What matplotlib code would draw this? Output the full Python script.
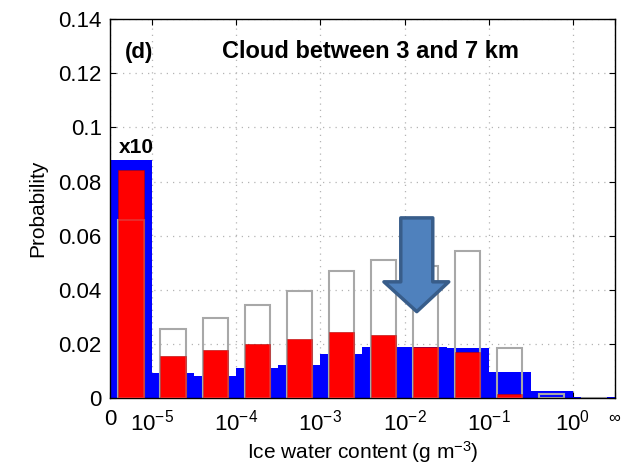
import matplotlib

matplotlib.use("Agg")
import matplotlib.pyplot as plt
import numpy as np
from matplotlib.patches import Polygon

plt.rcParams["font.family"] = ["Liberation Sans", "DejaVu Sans"]
plt.rcParams["mathtext.fontset"] = "custom"
plt.rcParams["mathtext.rm"] = "Liberation Sans"
plt.rcParams["mathtext.it"] = "Liberation Sans:italic"

# --- data: 12 IWC bins (0, half decades from 1e-5 to 1, then 1 to inf) ------
bin_labels = ["0", "1e-5", "10^-4.5", "1e-4", "10^-3.5", "1e-3", "10^-2.5",
              "1e-2", "10^-1.5", "1e-1", "10^-0.5", "1e0"]
obs_blue = [0.0088, 0.0094, 0.0083, 0.0111, 0.0124, 0.0164, 0.0190,
            0.0191, 0.0185, 0.0098, 0.0027, 0.0005]
model_red = [0.00843, 0.0156, 0.0178, 0.0200, 0.0218, 0.0246, 0.0234,
             0.0188, 0.0172, 0.0015, 0.0003, 0.0]
model_white = [0.0066, 0.0256, 0.0295, 0.0344, 0.0396, 0.0469, 0.0510,
               0.0488, 0.0544, 0.0184, 0.0017, 0.0]
scale = [10, 1, 1, 1, 1, 1, 1, 1, 1, 1, 1, 1]  # first bin shown x10

tick_pos = [0, 1, 3, 5, 7, 9, 11, 12]
tick_labels = ["0", r"$10^{-5}$", r"$10^{-4}$", r"$10^{-3}$", r"$10^{-2}$",
               r"$10^{-1}$", r"$10^{0}$", r"$\infty$"]
y_ticks = [0, 0.02, 0.04, 0.06, 0.08, 0.1, 0.12, 0.14]
y_labels = ["0", "0.02", "0.04", "0.06", "0.08", "0.1", "0.12", "0.14"]

x = np.arange(len(bin_labels)) + 0.5
sc = np.array(scale)

fig = plt.figure(figsize=(6.26, 4.72), dpi=100)
ax = fig.add_axes([0.1757, 0.1561, 0.8067, 0.8036])
ax.set_axisbelow(True)

ax.bar(x, np.array(obs_blue) * sc, width=1.0, color="#0000ff",
       edgecolor="none", zorder=2)
# outlines sit above blue but under red; a faint copy shows through red
ax.bar(x, np.array(model_white) * sc, width=0.6, facecolor="none",
       edgecolor="#a8a8a8", linewidth=1.5, zorder=2.5)
ax.bar(x, np.array(model_red) * sc, width=0.6, color="#ff0000",
       edgecolor="#b00000", linewidth=0.4, zorder=3)
ax.bar(x, np.array(model_white) * sc, width=0.6, facecolor="none",
       edgecolor="#a8a8a8", linewidth=1.2, alpha=0.3, zorder=4)

ax.text(0.2, 0.0905, "x10", fontsize=15, fontweight="bold", ha="left",
        va="baseline")
ax.text(0.36, 0.1255, "(d)", fontsize=16, fontweight="bold", ha="left",
        va="baseline")
ax.text(6.19, 0.1255, "Cloud between 3 and 7 km", fontsize=17,
        fontweight="bold", ha="center", va="baseline")

# overlay arrow pointing at the 1e-2 bin
sx0, sx1, top, hy, hx0, hx1, tip_x, tip_y = 6.91, 7.67, 0.0666, 0.0430, 6.51, 8.05, 7.29, 0.0320
arrow = Polygon([(sx0, top), (sx1, top), (sx1, hy), (hx1, hy), (tip_x, tip_y),
                 (hx0, hy), (sx0, hy)], closed=True, facecolor="#4f81bd",
                edgecolor="#385d8a", linewidth=2.5, joinstyle="round", zorder=6)
ax.add_patch(arrow)

ax.set_xlim(0, 12)
ax.set_ylim(0, 0.14)
ax.set_xticks(tick_pos)
ax.set_xticklabels(tick_labels)
ax.set_yticks(y_ticks)
ax.set_yticklabels(y_labels)
ax.tick_params(direction="in", length=4, top=True, right=True, width=0.8)
ax.tick_params(axis="x", pad=8, labelsize=16)
ax.tick_params(axis="y", pad=6, labelsize=16)
ax.get_xticklabels()[-1].set_fontsize(12)
ax.grid(True, color="#b4b4b4", linestyle=(0, (1, 4)), linewidth=0.9)
for s in ax.spines.values():
    s.set_linewidth(1.0)

ax.set_ylabel("Probability", fontsize=15, labelpad=8)
ax.set_xlabel(r"Ice water content (g m$^{-3}$)", fontsize=15, labelpad=3)

fig.savefig("out.png", dpi=100)
